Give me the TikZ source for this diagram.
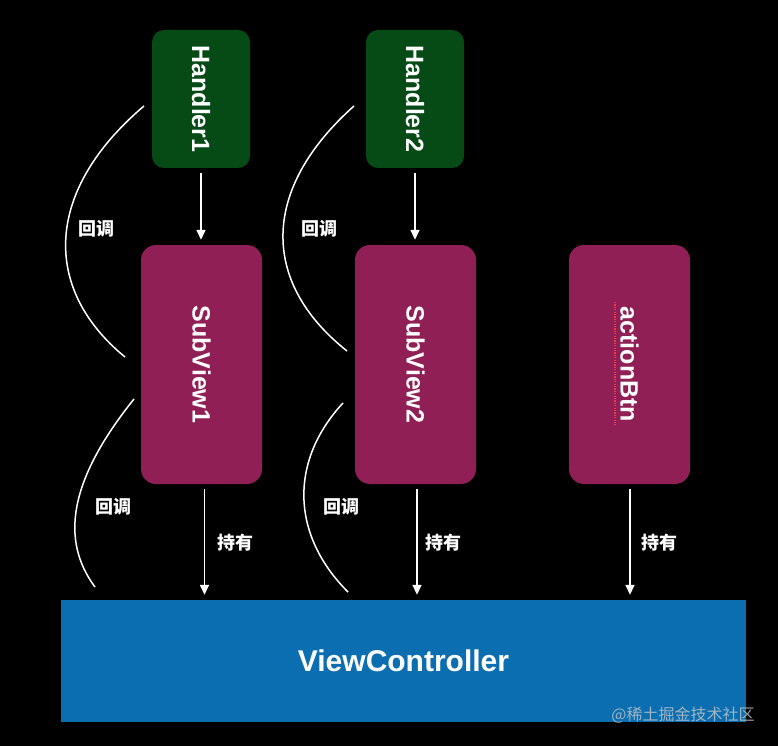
\documentclass[tikz,border=0pt]{standalone}
\usepackage{fontspec}
\setmainfont{Liberation Sans}
\newfontfamily\cjk{Noto Sans CJK SC}
\usetikzlibrary{arrows.meta}
\definecolor{hgreen}{RGB}{6,74,22}
\definecolor{svmag}{RGB}{143,31,85}
\definecolor{vcblue}{RGB}{10,110,177}
\definecolor{spellred}{RGB}{235,60,70}
\begin{document}
\begin{tikzpicture}[x=1pt,y=-1pt,
  handler/.style={fill=hgreen, rounded corners=12pt, minimum width=98pt, minimum height=138pt, inner sep=0pt, text=white, font=\bfseries\fontsize{25}{30}\selectfont},
  view/.style={fill=svmag, rounded corners=15pt, minimum width=121pt, minimum height=239pt, inner sep=0pt, text=white, font=\bfseries\fontsize{25}{30}\selectfont},
  vcbox/.style={fill=vcblue, minimum width=685pt, minimum height=122pt, inner sep=0pt, text=white, font=\bfseries\fontsize{30}{36}\selectfont},
  arr/.style={draw=white, line width=1.5pt, -{Triangle[length=10pt,width=9pt]}, shorten <=5pt, shorten >=5pt},
  cb/.style={draw=white, line width=1.5pt},
  cjklabel/.style={text=white, inner sep=0pt, font=\cjk\bfseries\fontsize{18}{20}\selectfont}]
\fill[black] (0,0) rectangle (778,746);
\useasboundingbox (0,0) rectangle (778,746);

% boxes
\node[handler] (h1) at (201,99) {\rotatebox{-90}{Handler1}};
\node[handler] (h2) at (415,99) {\rotatebox{-90}{Handler2}};
\node[view] (sv1) at (201.5,364.5) {\rotatebox{-90}{SubView1}};
\node[view] (sv2) at (415.5,364.5) {\rotatebox{-90}{SubView2}};
\node[view] (ab) at (629.5,364.5) {\rotatebox{-90}{actionBtn}};
\node[vcbox] (vc) at (403.5,661) {ViewController};

% spell-check underline
\draw[spellred, line width=1.2pt, dash pattern=on 1.2pt off 1.2pt] (615,302) -- (615,425);

% arrows
\draw[arr] (h1.south) -- (h1.south |- sv1.north);
\draw[arr] (h2.south) -- (h2.south |- sv2.north);
\draw[arr] ([xshift=3pt]sv1.south) -- ([xshift=3pt]sv1.south |- vc.north);
\draw[arr] ([xshift=1.5pt]sv2.south) -- ([xshift=1.5pt]sv2.south |- vc.north);
\draw[arr] ([xshift=0.5pt]ab.south) -- ([xshift=0.5pt]ab.south |- vc.north);

% hold labels
\node[cjklabel] (p1) at (235,543) {持有};
\node[cjklabel] (p2) at (443,543) {持有};
\node[cjklabel] (p3) at (659,543) {持有};

% callback curves
\draw[cb] (144,106) .. controls (45,190) and (41,288) .. (125,357);
\draw[cb] (354,106) .. controls (262,188) and (259,281) .. (347,351);
\draw[cb] (134,399) .. controls (69,480) and (60,540) .. (95,587);
\draw[cb] (343,403) .. controls (290,460) and (290,534) .. (348,592);

\node[cjklabel] (c1) at (96,229) {回调};
\node[cjklabel] (c2) at (319,229) {回调};
\node[cjklabel] (c3) at (113,507) {回调};
\node[cjklabel] (c4) at (341,507) {回调};

% watermark
\node[text=white!78!black, opacity=0.8, inner sep=0pt, font=\cjk\fontsize{16}{18}\selectfont] (wm) at (683,715) {@稀土掘金技术社区};
\end{tikzpicture}
\end{document}
